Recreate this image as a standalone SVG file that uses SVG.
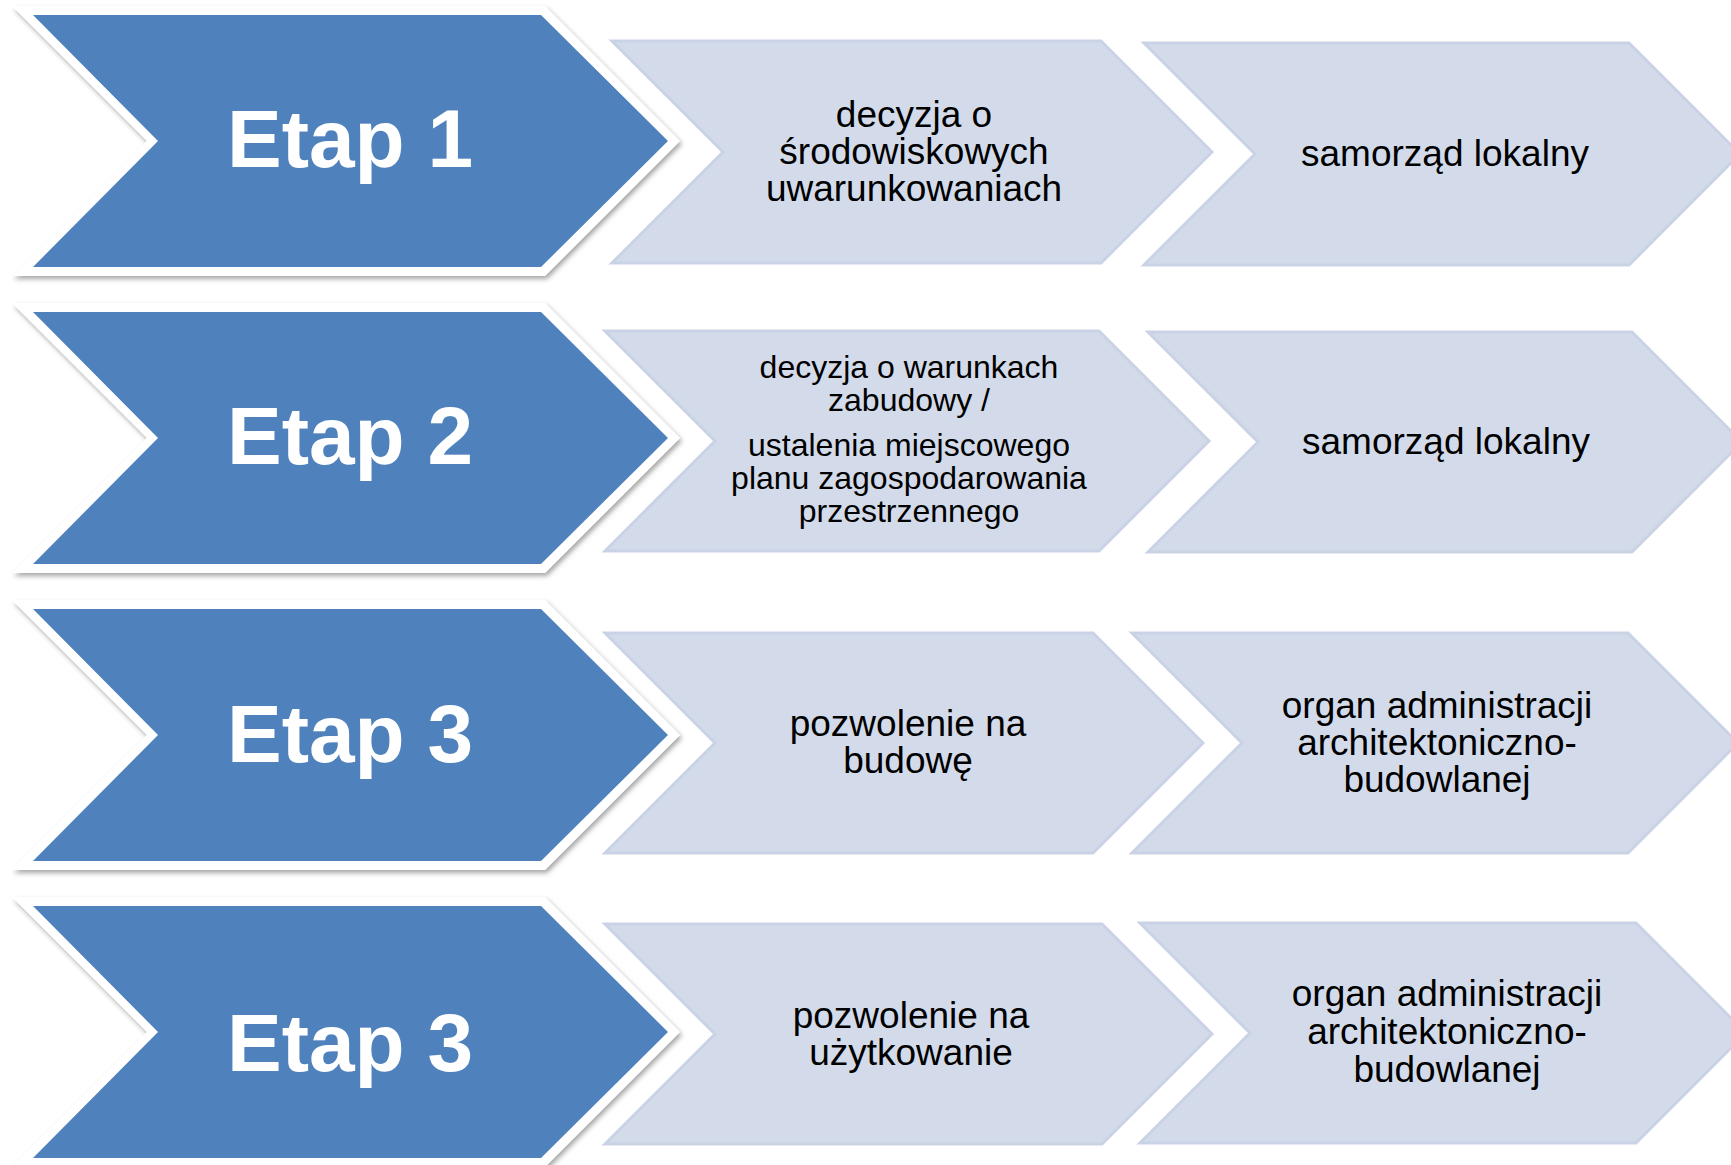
<svg xmlns="http://www.w3.org/2000/svg" width="1731" height="1165" viewBox="0 0 1731 1165">
<defs>
<filter id="sh" x="-5%" y="-5%" width="112%" height="115%">
<feDropShadow dx="2" dy="3" stdDeviation="2.5" flood-color="#000" flood-opacity="0.35"/>
</filter>
<polygon id="blueOuter" points="12,6 545,6 680,141 545,276 12,276 147,141"/>
<polygon id="blueInner" points="33,15 541,15 668,141 541,267 33,267 158,141"/>
</defs>
<style>
.light{fill:#D3DBEA;stroke:#CAD3E5;stroke-width:3}
.wout{fill:#FFFFFF;filter:url(#sh)}
.blue{fill:#4F81BD}
.etap{font-family:"Liberation Sans",Arial,sans-serif;font-weight:bold;font-size:82px;fill:#FFFFFF;text-anchor:middle}
.t37{font-family:"Liberation Sans",Arial,sans-serif;font-size:37px;fill:#000000;text-anchor:middle}
.t32{font-family:"Liberation Sans",Arial,sans-serif;font-size:32px;fill:#000000;text-anchor:middle}
</style>
<rect width="1731" height="1165" fill="#FFFFFF"/>
<g id="connectors"/>

<g id="row1-desc">
<polygon class="light" points="612,41 1101,41 1212,152 1101,263 612,263 723,152"/>
<text class="t37" x="914" y="127">decyzja o</text>
<text class="t37" x="914" y="164">środowiskowych</text>
<text class="t37" x="914" y="201">uwarunkowaniach</text>
</g>
<g id="row1-org">
<polygon class="light" points="1144,43 1629,43 1740,154 1629,265 1144,265 1255,154"/>
<text class="t37" x="1445" y="166">samorząd lokalny</text>
</g>
<g id="row1-etap">
<use href="#blueOuter" class="wout"/>
<use href="#blueInner" class="blue"/>
<text class="etap" x="350" y="167">Etap 1</text>
</g>

<g id="row2-desc">
<polygon class="light" points="605,331 1099,331 1209,441 1099,551 605,551 715,441"/>
<text class="t32" x="909" y="378">decyzja o warunkach</text>
<text class="t32" x="909" y="411">zabudowy /</text>
<text class="t32" x="909" y="456">ustalenia miejscowego</text>
<text class="t32" x="909" y="489">planu zagospodarowania</text>
<text class="t32" x="909" y="522">przestrzennego</text>
</g>
<g id="row2-org">
<polygon class="light" points="1148,332 1632,332 1742,442 1632,552 1148,552 1258,442"/>
<text class="t37" x="1446" y="454">samorząd lokalny</text>
</g>
<g id="row2-etap" transform="translate(0,297)">
<use href="#blueOuter" class="wout"/>
<use href="#blueInner" class="blue"/>
<text class="etap" x="350" y="167">Etap 2</text>
</g>

<g id="row3-desc">
<polygon class="light" points="605,633 1093,633 1203,743 1093,853 605,853 715,743"/>
<text class="t37" x="908" y="736">pozwolenie na</text>
<text class="t37" x="908" y="773">budowę</text>
</g>
<g id="row3-org">
<polygon class="light" points="1132,633 1628,633 1738,743 1628,853 1132,853 1242,743"/>
<text class="t37" x="1437" y="718">organ administracji</text>
<text class="t37" x="1437" y="755">architektoniczno-</text>
<text class="t37" x="1437" y="792">budowlanej</text>
</g>
<g id="row3-etap" transform="translate(0,594)">
<use href="#blueOuter" class="wout"/>
<use href="#blueInner" class="blue"/>
<text class="etap" x="350" y="168">Etap 3</text>
</g>

<g id="row4-desc">
<polygon class="light" points="605,924 1102,924 1212,1034 1102,1144 605,1144 715,1034"/>
<text class="t37" x="911" y="1028">pozwolenie na</text>
<text class="t37" x="911" y="1065">użytkowanie</text>
</g>
<g id="row4-org">
<polygon class="light" points="1140,923 1636,923 1746,1033 1636,1143 1140,1143 1250,1033"/>
<text class="t37" x="1447" y="1006">organ administracji</text>
<text class="t37" x="1447" y="1044">architektoniczno-</text>
<text class="t37" x="1447" y="1082">budowlanej</text>
</g>
<g id="row4-etap" transform="translate(0,891)">
<use href="#blueOuter" class="wout"/>
<use href="#blueInner" class="blue"/>
<text class="etap" x="350" y="180">Etap 3</text>
</g>
</svg>
